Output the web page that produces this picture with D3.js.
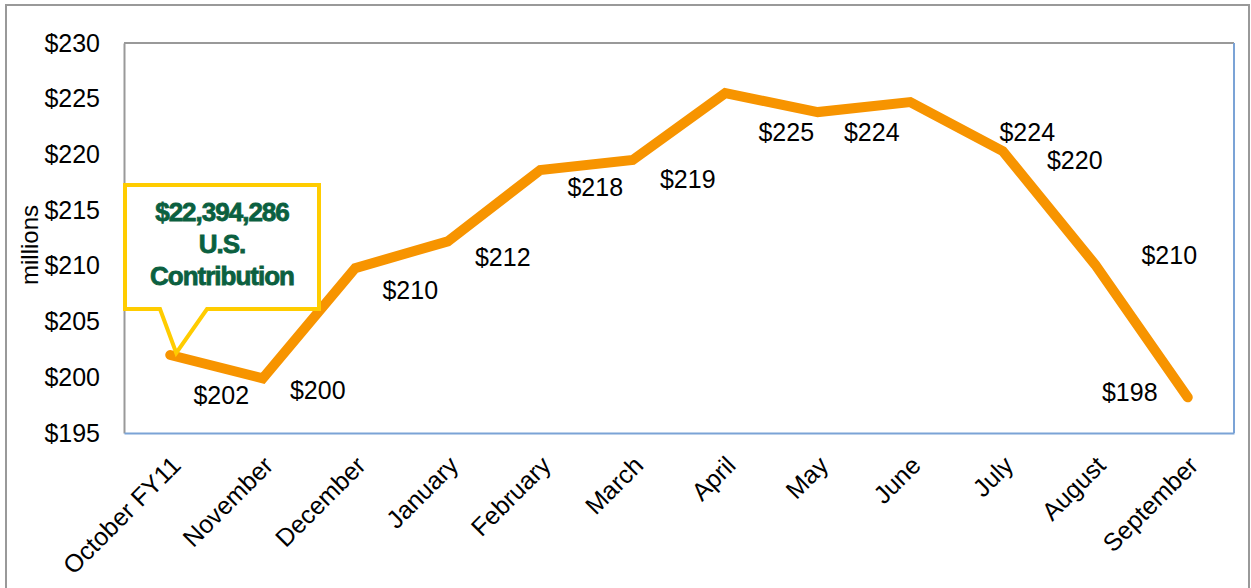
<!DOCTYPE html>
<html>
<head>
<meta charset="utf-8">
<script src="https://cdn.jsdelivr.net/npm/d3@7"></script>
<style>
  body { margin: 0; background: #fff; }
  text { font-family: "Liberation Sans", Arial, sans-serif; }
</style>
</head>
<body>
<script>
// datos del gráfico
months = ["October FY11", "November", "December", "January", "February", "March",
          "April", "May", "June", "July", "August", "September"];
values = [202.0, 199.9, 209.8, 212.2, 218.6, 219.5, 225.5, 223.8, 224.7, 220.3, 210.1, 198.2];
labels = ["$202", "$200", "$210", "$212", "$218", "$219", "$225", "$224", "$224", "$220", "$210", "$198"];
yTicks = [195, 200, 205, 210, 215, 220, 225, 230];

// desplazamiento manual de cada etiqueta respecto a su punto (px)
labelOffsets = [[51, 40], [55, 12], [55, 22], [55, 16], [55, 17], [55, 19],
                [61, 39], [54, 20], [117, 30], [72, 9], [74, -10], [-58, -5]];

width = 1251;
height = 588;
plot = {left: 124, top: 43, right: 1234, bottom: 433};

svg = d3.select("body").append("svg")
    .attr("width", width)
    .attr("height", height);

// marco exterior
svg.append("rect")
    .attr("x", 6).attr("y", 5)
    .attr("width", 1243).attr("height", 620)
    .attr("fill", "none")
    .attr("stroke", "#999")
    .attr("stroke-width", 2);

x = d3.scaleBand()
    .domain(months)
    .range([plot.left, plot.right]);

y = d3.scaleLinear()
    .domain([195, 230])
    .range([plot.bottom, plot.top]);

// bordes del área de trazado
svg.append("line") // superior
    .attr("x1", plot.left).attr("x2", plot.right)
    .attr("y1", plot.top).attr("y2", plot.top)
    .attr("stroke", "#999").attr("stroke-width", 2);
svg.append("line") // derecho
    .attr("x1", plot.right).attr("x2", plot.right)
    .attr("y1", plot.top).attr("y2", plot.bottom)
    .attr("stroke", "#7ba3d6").attr("stroke-width", 2);

// eje Y
yAxis = svg.append("g")
    .attr("transform", `translate(${plot.left},0)`)
    .call(d3.axisLeft(y).tickValues(yTicks).tickSize(0).tickPadding(24).tickFormat(d => "$" + d));
yAxis.select(".domain").attr("stroke", "#999").attr("stroke-width", 2);
yAxis.selectAll("text").attr("font-size", 25).attr("fill", "#000")
    .attr("font-family", "Liberation Sans, Arial, sans-serif");

// eje X
xAxis = svg.append("g")
    .attr("transform", `translate(0,${plot.bottom})`)
    .call(d3.axisBottom(x).tickSize(0).tickPadding(0));
xAxis.select(".domain").attr("stroke", "#7ba3d6").attr("stroke-width", 2);
xAxis.selectAll("text")
    .attr("font-size", 25)
    .attr("fill", "#000")
    .attr("font-family", "Liberation Sans, Arial, sans-serif")
    .attr("text-anchor", "end")
    .attr("dy", null)
    .attr("y", 0)
    .attr("transform", "translate(12,34) rotate(-45)");

// título del eje Y
svg.append("text")
    .attr("transform", "translate(38,245) rotate(-90)")
    .attr("text-anchor", "middle")
    .attr("font-size", 24)
    .text("millions");

// línea
cx = d => x(d) + x.bandwidth() / 2;
line = d3.line()
    .x((d, i) => cx(months[i]))
    .y(d => y(d));

svg.append("path")
    .datum(values)
    .attr("d", line)
    .attr("fill", "none")
    .attr("stroke", "#f79400")
    .attr("stroke-width", 10)
    .attr("stroke-linejoin", "miter")
    .attr("stroke-linecap", "round");

// etiquetas de datos
svg.selectAll("text.label")
    .data(values)
    .enter().append("text")
    .attr("class", "label")
    .attr("x", (d, i) => cx(months[i]) + labelOffsets[i][0])
    .attr("y", (d, i) => y(d) + labelOffsets[i][1])
    .attr("dy", "0.36em")
    .attr("text-anchor", "middle")
    .attr("font-size", 25)
    .text((d, i) => labels[i]);

// globo de la contribución de EE.UU.
tip = [cx(months[0]) + 6, y(values[0]) - 2];
box = {l: 125, r: 319, t: 185, b: 309};
svg.append("path")
    .attr("d", `M${box.l},${box.t} H${box.r} V${box.b} H207 L${tip[0]},${tip[1]} L160,${box.b} H${box.l} Z`)
    .attr("fill", "#fff")
    .attr("stroke", "#ffcc00")
    .attr("stroke-width", 4)
    .attr("stroke-linejoin", "miter");

callout = ["$22,394,286", "U.S.", "Contribution"];
svg.selectAll("text.callout")
    .data(callout)
    .enter().append("text")
    .attr("class", "callout")
    .attr("x", 222)
    .attr("y", (d, i) => 212 + i * 32)
    .attr("dy", "0.36em")
    .attr("text-anchor", "middle")
    .attr("font-size", 26)
    .attr("font-weight", "bold")
    .attr("letter-spacing", -1)
    .attr("fill", "#0b6040")
    .attr("stroke", "#0b6040")
    .attr("stroke-width", 0.8)
    .text(d => d);
</script>
</body>
</html>
